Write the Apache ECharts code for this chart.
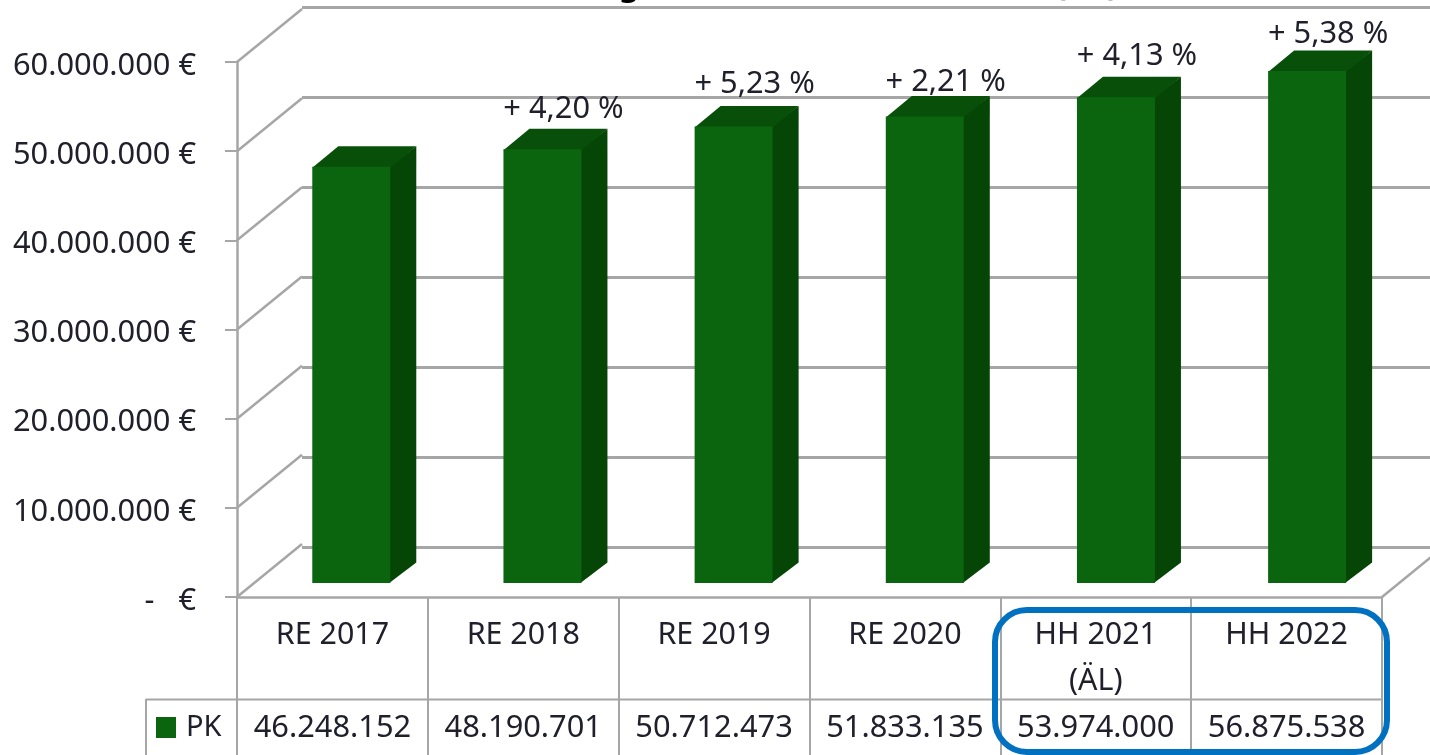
<!DOCTYPE html>
<html lang="de">
<head>
  <title>PK</title>
  <meta charset="utf-8" />
  <script src="https://cdn.jsdelivr.net/npm/echarts@6/dist/echarts.min.js"></script>
  <style>
    html, body { margin: 0; padding: 0; background: #fff; }
    #main { width: 1430px; height: 755px; }
  </style>
</head>
<body>
<div id="main"></div>
<script type="text/javascript">
  let categories = ['RE 2017', 'RE 2018', 'RE 2019', 'RE 2020', 'HH 2021\n(ÄL)', 'HH 2022']
  let pkValues = [46248152, 48190701, 50712473, 51833135, 53974000, 56875538]
  let growthLabels = ['', '+ 4,20 %', '+ 5,23 %', '+ 2,21 %', '+ 4,13 %', '+ 5,38 %']
  let yTicks = [0, 10000000, 20000000, 30000000, 40000000, 50000000, 60000000]

  let fontName = '"Noto Sans", sans-serif'
  let textColor = '#20202c'
  let lineColor = '#a6a6a6'
  let colorFront = '#0b650f'
  let colorSide = '#054506'
  let colorTop = '#085009'

  // depth of the fake 3d box
  let wallDx = 65
  let wallDy = -53
  let barW = 78
  let barDx = 26
  let barDy = -20.5
  // the percent labels were placed by hand in the original
  let labelNudgeY = [0, -20, -22, -14, -21, -16]

  function formatNumber(v) {
    return String(v).replace(/\B(?=(\d{3})+$)/g, '.')
  }

  function renderBar(params, api) {
    let i = api.value(0)
    let top = api.coord([i, api.value(1)])
    let base = api.coord([i, 0])
    // bars stand on the floor, in front of the back wall
    let x0 = top[0] - 46.3 - barW / 2
    let x1 = x0 + barW
    let y0 = top[1] + 36
    let y1 = base[1] + 36
    let children = [
      { type: 'polygon', shape: { points: [[x1 - 1, y0], [x1 + barDx, y0 + barDy], [x1 + barDx, y1 + barDy], [x1 - 1, y1]] }, style: { fill: colorSide } },
      { type: 'polygon', shape: { points: [[x0, y0 + 1], [x0 + barDx, y0 + barDy], [x1 + barDx, y0 + barDy], [x1, y0 + 1]] }, style: { fill: colorTop } },
      { type: 'rect', shape: { x: x0, y: y0, width: barW, height: y1 - y0 }, style: { fill: colorFront } }
    ]
    if (growthLabels[i]) {
      children.push({
        type: 'text',
        style: {
          text: growthLabels[i], x: x0 + barW / 2 + 21, y: y0 + barDy + labelNudgeY[i],
          align: 'center', verticalAlign: 'middle',
          fontSize: 30.8, fontFamily: fontName, fill: textColor
        }
      })
    }
    return { type: 'group', children: children }
  }

  function renderWallEdge(params, api) {
    let p = api.coord([0, api.value(0)])
    let x = params.coordSys.x
    let lines = [{ type: 'line', shape: { x1: x, y1: p[1], x2: x + wallDx, y2: p[1] + wallDy }, style: { stroke: lineColor, lineWidth: 2.5 } }]
    if (api.value(0) === 0) {
      let xr = x + params.coordSys.width
      lines.push({ type: 'line', shape: { x1: xr, y1: p[1], x2: xr + wallDx, y2: p[1] + wallDy }, style: { stroke: lineColor, lineWidth: 2.5 } })
    }
    return { type: 'group', children: lines }
  }

  let chart = echarts.init(document.getElementById('main'))

  chart.setOption({
    animation: false,
    textStyle: { fontFamily: fontName, color: textColor },
    legend: {
      data: ['PK'], left: 156, top: 713, padding: 0, itemWidth: 20, itemHeight: 21, itemGap: 0,
      icon: 'rect', selectedMode: false,
      textStyle: { fontSize: 29, color: textColor, fontFamily: fontName, padding: [0, 0, 0, 5] }
    },
    grid: [
      { left: 237, top: 62, width: 1145, height: 535 },
      { left: 302, top: 7, width: 1147, height: 540, outerBoundsMode: 'none' }
    ],
    xAxis: [
      {
        type: 'category', gridIndex: 0, data: categories,
        axisLine: { lineStyle: { color: lineColor, width: 2.5 } },
        axisTick: { show: true, length: 158, lineStyle: { color: lineColor, width: 2 } },
        axisLabel: { interval: 0, margin: 15, fontSize: 30.4, lineHeight: 46, color: textColor, fontFamily: fontName, verticalAlign: 'top' }
      },
      {
        type: 'category', gridIndex: 0, position: 'bottom', offset: 116,
        data: pkValues.map(formatNumber),
        axisLine: { show: false }, axisTick: { show: false },
        axisLabel: { interval: 0, margin: 0, fontSize: 30.8, color: textColor, fontFamily: fontName, verticalAlign: 'top' }
      },
      { type: 'category', gridIndex: 1, data: categories, show: false }
    ],
    yAxis: [
      {
        type: 'value', gridIndex: 0, min: 0, max: 60000000, interval: 10000000,
        axisLine: { show: true, lineStyle: { color: lineColor, width: 2.5 } },
        axisTick: { show: true, length: 12, lineStyle: { color: lineColor, width: 2 } },
        splitLine: { show: false },
        axisLabel: {
          margin: 41, fontSize: 30.8, color: textColor, fontFamily: fontName,
          verticalAlign: 'top', lineHeight: 8,
          formatter: function (v) { return v === 0 ? '-   €' : formatNumber(v) + ' €' }
        }
      },
      {
        type: 'value', gridIndex: 1, min: 0, max: 60000000, interval: 10000000,
        axisLine: { show: false }, axisTick: { show: false }, axisLabel: { show: false },
        splitLine: { show: true, lineStyle: { color: lineColor, width: 3 } }
      }
    ],
    series: [
      {
        type: 'custom', name: 'wall', xAxisIndex: 0, yAxisIndex: 0, z: 1, silent: true,
        data: yTicks.map(function (v) { return [v] }), encode: { y: 0 },
        renderItem: renderWallEdge
      },
      {
        type: 'custom', name: 'PK', xAxisIndex: 2, yAxisIndex: 1, z: 3,
        itemStyle: { color: colorFront },
        data: pkValues.map(function (v, i) { return [i, v] }), encode: { x: 0, y: 1 },
        renderItem: renderBar
      }
    ],
    graphic: [
      // row line and left edge of the data table
      { type: 'line', z: 2, shape: { x1: 146, y1: 699.5, x2: 1382, y2: 699.5 }, style: { stroke: lineColor, lineWidth: 2 } },
      { type: 'line', z: 2, shape: { x1: 146, y1: 699, x2: 146, y2: 755 }, style: { stroke: lineColor, lineWidth: 2 } },
      // title is cut off by the top edge, only descenders show
      { type: 'text', z: 2, style: { text: 'g', x: 629, y: 2, align: 'center', verticalAlign: 'bottom', fontSize: 32, fontWeight: 'bold', fontFamily: fontName, fill: '#000' } },
      { type: 'text', z: 2, style: { text: '(PK)', x: 1087, y: 2, align: 'center', verticalAlign: 'bottom', fontSize: 32, fontWeight: 'bold', fontFamily: fontName, fill: '#000' } },
      // blue frame round the budget years
      { type: 'rect', z: 10, shape: { x: 995, y: 610, width: 392, height: 142, r: 32 }, style: { fill: 'none', stroke: '#0070c0', lineWidth: 6 } }
    ]
  })
</script>
</body>
</html>
